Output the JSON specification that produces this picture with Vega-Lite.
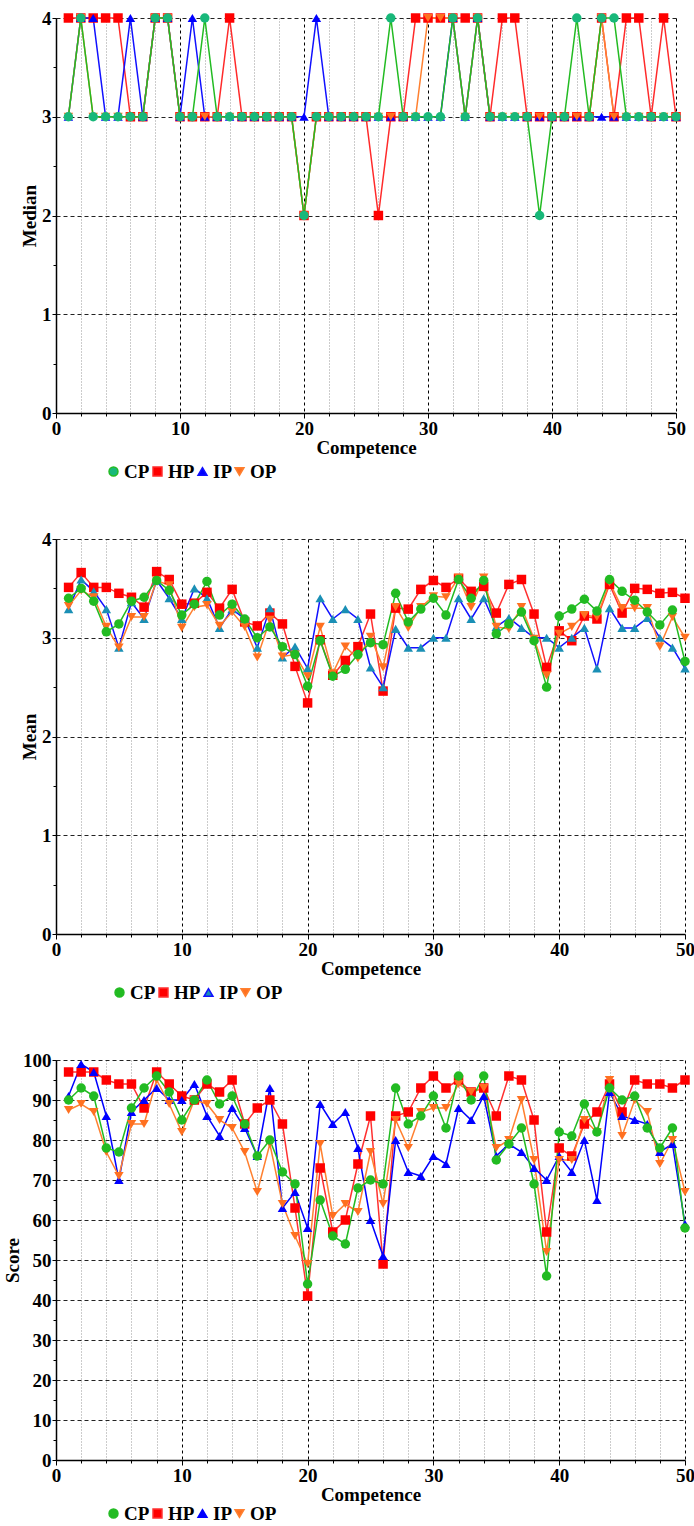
{
"$schema":"https://vega.github.io/schema/vega-lite/v6.json",
"background":"white",
"padding":{"left":3,"top":9,"right":0,"bottom":5},
"spacing":48,
"config":{"view":{"stroke":null},"font":"Liberation Serif",
"axis":{"labelFont":"Liberation Serif","labelFontWeight":"bold","labelFontSize":19,"labelColor":"black","titleFont":"Liberation Serif","titleFontWeight":"bold","titleFontSize":19,"titleColor":"black","domainColor":"black","domainWidth":1.5,"tickColor":"black","labelOverlap":false,"labelFlush":false},
"legend":{"orient":"none","direction":"horizontal","title":null,"labelFont":"Liberation Serif","labelFontWeight":"bold","labelFontSize":19,"labelColor":"black","symbolSize":80,"gridAlign":"none","columnPadding":-2,"labelOffset":1}},
"datasets":{
"median":[
{"c":1,"g":"HP","v":4},{"c":2,"g":"HP","v":4},{"c":3,"g":"HP","v":4},{"c":4,"g":"HP","v":4},{"c":5,"g":"HP","v":4},{"c":6,"g":"HP","v":3},{"c":7,"g":"HP","v":3},{"c":8,"g":"HP","v":4},{"c":9,"g":"HP","v":4},{"c":10,"g":"HP","v":3},
{"c":11,"g":"HP","v":3},{"c":12,"g":"HP","v":3},{"c":13,"g":"HP","v":3},{"c":14,"g":"HP","v":4},{"c":15,"g":"HP","v":3},{"c":16,"g":"HP","v":3},{"c":17,"g":"HP","v":3},{"c":18,"g":"HP","v":3},{"c":19,"g":"HP","v":3},{"c":20,"g":"HP","v":2},
{"c":21,"g":"HP","v":3},{"c":22,"g":"HP","v":3},{"c":23,"g":"HP","v":3},{"c":24,"g":"HP","v":3},{"c":25,"g":"HP","v":3},{"c":26,"g":"HP","v":2},{"c":27,"g":"HP","v":3},{"c":28,"g":"HP","v":3},{"c":29,"g":"HP","v":4},{"c":30,"g":"HP","v":4},
{"c":31,"g":"HP","v":4},{"c":32,"g":"HP","v":4},{"c":33,"g":"HP","v":4},{"c":34,"g":"HP","v":4},{"c":35,"g":"HP","v":3},{"c":36,"g":"HP","v":4},{"c":37,"g":"HP","v":4},{"c":38,"g":"HP","v":3},{"c":39,"g":"HP","v":3},{"c":40,"g":"HP","v":3},
{"c":41,"g":"HP","v":3},{"c":42,"g":"HP","v":3},{"c":43,"g":"HP","v":3},{"c":44,"g":"HP","v":4},{"c":45,"g":"HP","v":3},{"c":46,"g":"HP","v":4},{"c":47,"g":"HP","v":4},{"c":48,"g":"HP","v":3},{"c":49,"g":"HP","v":4},{"c":50,"g":"HP","v":3},
{"c":1,"g":"IP","v":3},{"c":2,"g":"IP","v":4},{"c":3,"g":"IP","v":4},{"c":4,"g":"IP","v":3},{"c":5,"g":"IP","v":3},{"c":6,"g":"IP","v":4},{"c":7,"g":"IP","v":3},{"c":8,"g":"IP","v":4},{"c":9,"g":"IP","v":4},{"c":10,"g":"IP","v":3},
{"c":11,"g":"IP","v":4},{"c":12,"g":"IP","v":3},{"c":13,"g":"IP","v":3},{"c":14,"g":"IP","v":3},{"c":15,"g":"IP","v":3},{"c":16,"g":"IP","v":3},{"c":17,"g":"IP","v":3},{"c":18,"g":"IP","v":3},{"c":19,"g":"IP","v":3},{"c":20,"g":"IP","v":3},
{"c":21,"g":"IP","v":4},{"c":22,"g":"IP","v":3},{"c":23,"g":"IP","v":3},{"c":24,"g":"IP","v":3},{"c":25,"g":"IP","v":3},{"c":26,"g":"IP","v":3},{"c":27,"g":"IP","v":3},{"c":28,"g":"IP","v":3},{"c":29,"g":"IP","v":3},{"c":30,"g":"IP","v":3},
{"c":31,"g":"IP","v":3},{"c":32,"g":"IP","v":4},{"c":33,"g":"IP","v":3},{"c":34,"g":"IP","v":4},{"c":35,"g":"IP","v":3},{"c":36,"g":"IP","v":3},{"c":37,"g":"IP","v":3},{"c":38,"g":"IP","v":3},{"c":39,"g":"IP","v":3},{"c":40,"g":"IP","v":3},
{"c":41,"g":"IP","v":3},{"c":42,"g":"IP","v":3},{"c":43,"g":"IP","v":3},{"c":44,"g":"IP","v":3},{"c":45,"g":"IP","v":3},{"c":46,"g":"IP","v":3},{"c":47,"g":"IP","v":3},{"c":48,"g":"IP","v":3},{"c":49,"g":"IP","v":3},{"c":50,"g":"IP","v":3},
{"c":1,"g":"OP","v":3},{"c":2,"g":"OP","v":4},{"c":3,"g":"OP","v":3},{"c":4,"g":"OP","v":3},{"c":5,"g":"OP","v":3},{"c":6,"g":"OP","v":3},{"c":7,"g":"OP","v":3},{"c":8,"g":"OP","v":4},{"c":9,"g":"OP","v":4},{"c":10,"g":"OP","v":3},
{"c":11,"g":"OP","v":3},{"c":12,"g":"OP","v":3},{"c":13,"g":"OP","v":3},{"c":14,"g":"OP","v":3},{"c":15,"g":"OP","v":3},{"c":16,"g":"OP","v":3},{"c":17,"g":"OP","v":3},{"c":18,"g":"OP","v":3},{"c":19,"g":"OP","v":3},{"c":20,"g":"OP","v":2},
{"c":21,"g":"OP","v":3},{"c":22,"g":"OP","v":3},{"c":23,"g":"OP","v":3},{"c":24,"g":"OP","v":3},{"c":25,"g":"OP","v":3},{"c":26,"g":"OP","v":3},{"c":27,"g":"OP","v":3},{"c":28,"g":"OP","v":3},{"c":29,"g":"OP","v":3},{"c":30,"g":"OP","v":4},
{"c":31,"g":"OP","v":4},{"c":32,"g":"OP","v":4},{"c":33,"g":"OP","v":3},{"c":34,"g":"OP","v":4},{"c":35,"g":"OP","v":3},{"c":36,"g":"OP","v":3},{"c":37,"g":"OP","v":3},{"c":38,"g":"OP","v":3},{"c":39,"g":"OP","v":3},{"c":40,"g":"OP","v":3},
{"c":41,"g":"OP","v":3},{"c":42,"g":"OP","v":3},{"c":43,"g":"OP","v":3},{"c":44,"g":"OP","v":4},{"c":45,"g":"OP","v":3},{"c":46,"g":"OP","v":3},{"c":47,"g":"OP","v":3},{"c":48,"g":"OP","v":3},{"c":49,"g":"OP","v":3},{"c":50,"g":"OP","v":3},
{"c":1,"g":"CP","v":3},{"c":2,"g":"CP","v":4},{"c":3,"g":"CP","v":3},{"c":4,"g":"CP","v":3},{"c":5,"g":"CP","v":3},{"c":6,"g":"CP","v":3},{"c":7,"g":"CP","v":3},{"c":8,"g":"CP","v":4},{"c":9,"g":"CP","v":4},{"c":10,"g":"CP","v":3},
{"c":11,"g":"CP","v":3},{"c":12,"g":"CP","v":4},{"c":13,"g":"CP","v":3},{"c":14,"g":"CP","v":3},{"c":15,"g":"CP","v":3},{"c":16,"g":"CP","v":3},{"c":17,"g":"CP","v":3},{"c":18,"g":"CP","v":3},{"c":19,"g":"CP","v":3},{"c":20,"g":"CP","v":2},
{"c":21,"g":"CP","v":3},{"c":22,"g":"CP","v":3},{"c":23,"g":"CP","v":3},{"c":24,"g":"CP","v":3},{"c":25,"g":"CP","v":3},{"c":26,"g":"CP","v":3},{"c":27,"g":"CP","v":4},{"c":28,"g":"CP","v":3},{"c":29,"g":"CP","v":3},{"c":30,"g":"CP","v":3},
{"c":31,"g":"CP","v":3},{"c":32,"g":"CP","v":4},{"c":33,"g":"CP","v":3},{"c":34,"g":"CP","v":4},{"c":35,"g":"CP","v":3},{"c":36,"g":"CP","v":3},{"c":37,"g":"CP","v":3},{"c":38,"g":"CP","v":3},{"c":39,"g":"CP","v":2},{"c":40,"g":"CP","v":3},
{"c":41,"g":"CP","v":3},{"c":42,"g":"CP","v":4},{"c":43,"g":"CP","v":3},{"c":44,"g":"CP","v":4},{"c":45,"g":"CP","v":4},{"c":46,"g":"CP","v":3},{"c":47,"g":"CP","v":3},{"c":48,"g":"CP","v":3},{"c":49,"g":"CP","v":3},{"c":50,"g":"CP","v":3}
],
"mean":[
{"c":1,"g":"HP","v":3.51},{"c":2,"g":"HP","v":3.66},{"c":3,"g":"HP","v":3.51},{"c":4,"g":"HP","v":3.51},{"c":5,"g":"HP","v":3.45},{"c":6,"g":"HP","v":3.41},{"c":7,"g":"HP","v":3.31},{"c":8,"g":"HP","v":3.67},{"c":9,"g":"HP","v":3.59},{"c":10,"g":"HP","v":3.34},
{"c":11,"g":"HP","v":3.35},{"c":12,"g":"HP","v":3.46},{"c":13,"g":"HP","v":3.30},{"c":14,"g":"HP","v":3.49},{"c":15,"g":"HP","v":3.16},{"c":16,"g":"HP","v":3.12},{"c":17,"g":"HP","v":3.25},{"c":18,"g":"HP","v":3.14},{"c":19,"g":"HP","v":2.71},{"c":20,"g":"HP","v":2.34},
{"c":21,"g":"HP","v":2.98},{"c":22,"g":"HP","v":2.62},{"c":23,"g":"HP","v":2.77},{"c":24,"g":"HP","v":2.91},{"c":25,"g":"HP","v":3.24},{"c":26,"g":"HP","v":2.46},{"c":27,"g":"HP","v":3.30},{"c":28,"g":"HP","v":3.29},{"c":29,"g":"HP","v":3.49},{"c":30,"g":"HP","v":3.58},
{"c":31,"g":"HP","v":3.51},{"c":32,"g":"HP","v":3.60},{"c":33,"g":"HP","v":3.47},{"c":34,"g":"HP","v":3.52},{"c":35,"g":"HP","v":3.25},{"c":36,"g":"HP","v":3.54},{"c":37,"g":"HP","v":3.59},{"c":38,"g":"HP","v":3.24},{"c":39,"g":"HP","v":2.70},{"c":40,"g":"HP","v":3.07},
{"c":41,"g":"HP","v":2.97},{"c":42,"g":"HP","v":3.22},{"c":43,"g":"HP","v":3.19},{"c":44,"g":"HP","v":3.54},{"c":45,"g":"HP","v":3.25},{"c":46,"g":"HP","v":3.50},{"c":47,"g":"HP","v":3.49},{"c":48,"g":"HP","v":3.45},{"c":49,"g":"HP","v":3.46},{"c":50,"g":"HP","v":3.40},
{"c":1,"g":"IP","v":3.29},{"c":2,"g":"IP","v":3.59},{"c":3,"g":"IP","v":3.47},{"c":4,"g":"IP","v":3.29},{"c":5,"g":"IP","v":2.90},{"c":6,"g":"IP","v":3.36},{"c":7,"g":"IP","v":3.19},{"c":8,"g":"IP","v":3.58},{"c":9,"g":"IP","v":3.40},{"c":10,"g":"IP","v":3.19},
{"c":11,"g":"IP","v":3.50},{"c":12,"g":"IP","v":3.40},{"c":13,"g":"IP","v":3.10},{"c":14,"g":"IP","v":3.29},{"c":15,"g":"IP","v":3.19},{"c":16,"g":"IP","v":2.90},{"c":17,"g":"IP","v":3.30},{"c":18,"g":"IP","v":2.80},{"c":19,"g":"IP","v":2.91},{"c":20,"g":"IP","v":2.69},
{"c":21,"g":"IP","v":3.40},{"c":22,"g":"IP","v":3.19},{"c":23,"g":"IP","v":3.29},{"c":24,"g":"IP","v":3.19},{"c":25,"g":"IP","v":2.70},{"c":26,"g":"IP","v":2.50},{"c":27,"g":"IP","v":3.09},{"c":28,"g":"IP","v":2.90},{"c":29,"g":"IP","v":2.90},{"c":30,"g":"IP","v":3.00},
{"c":31,"g":"IP","v":3.00},{"c":32,"g":"IP","v":3.40},{"c":33,"g":"IP","v":3.19},{"c":34,"g":"IP","v":3.40},{"c":35,"g":"IP","v":3.11},{"c":36,"g":"IP","v":3.20},{"c":37,"g":"IP","v":3.10},{"c":38,"g":"IP","v":3.00},{"c":39,"g":"IP","v":3.00},{"c":40,"g":"IP","v":2.90},
{"c":41,"g":"IP","v":3.00},{"c":42,"g":"IP","v":3.10},{"c":43,"g":"IP","v":2.69},{"c":44,"g":"IP","v":3.30},{"c":45,"g":"IP","v":3.10},{"c":46,"g":"IP","v":3.10},{"c":47,"g":"IP","v":3.20},{"c":48,"g":"IP","v":3.00},{"c":49,"g":"IP","v":2.90},{"c":50,"g":"IP","v":2.69},
{"c":1,"g":"OP","v":3.32},{"c":2,"g":"OP","v":3.48},{"c":3,"g":"OP","v":3.41},{"c":4,"g":"OP","v":3.11},{"c":5,"g":"OP","v":2.90},{"c":6,"g":"OP","v":3.21},{"c":7,"g":"OP","v":3.21},{"c":8,"g":"OP","v":3.58},{"c":9,"g":"OP","v":3.53},{"c":10,"g":"OP","v":3.10},
{"c":11,"g":"OP","v":3.31},{"c":12,"g":"OP","v":3.33},{"c":13,"g":"OP","v":3.12},{"c":14,"g":"OP","v":3.26},{"c":15,"g":"OP","v":3.11},{"c":16,"g":"OP","v":2.80},{"c":17,"g":"OP","v":3.18},{"c":18,"g":"OP","v":2.81},{"c":19,"g":"OP","v":2.83},{"c":20,"g":"OP","v":2.61},
{"c":21,"g":"OP","v":3.11},{"c":22,"g":"OP","v":2.64},{"c":23,"g":"OP","v":2.91},{"c":24,"g":"OP","v":2.79},{"c":25,"g":"OP","v":3.01},{"c":26,"g":"OP","v":2.70},{"c":27,"g":"OP","v":3.31},{"c":28,"g":"OP","v":3.10},{"c":29,"g":"OP","v":3.31},{"c":30,"g":"OP","v":3.42},
{"c":31,"g":"OP","v":3.41},{"c":32,"g":"OP","v":3.61},{"c":33,"g":"OP","v":3.31},{"c":34,"g":"OP","v":3.61},{"c":35,"g":"OP","v":3.11},{"c":36,"g":"OP","v":3.09},{"c":37,"g":"OP","v":3.31},{"c":38,"g":"OP","v":2.99},{"c":39,"g":"OP","v":2.62},{"c":40,"g":"OP","v":3.04},
{"c":41,"g":"OP","v":3.11},{"c":42,"g":"OP","v":3.23},{"c":43,"g":"OP","v":3.21},{"c":44,"g":"OP","v":3.56},{"c":45,"g":"OP","v":3.30},{"c":46,"g":"OP","v":3.30},{"c":47,"g":"OP","v":3.30},{"c":48,"g":"OP","v":2.91},{"c":49,"g":"OP","v":3.21},{"c":50,"g":"OP","v":3.00},
{"c":1,"g":"CP","v":3.40},{"c":2,"g":"CP","v":3.50},{"c":3,"g":"CP","v":3.37},{"c":4,"g":"CP","v":3.06},{"c":5,"g":"CP","v":3.14},{"c":6,"g":"CP","v":3.37},{"c":7,"g":"CP","v":3.41},{"c":8,"g":"CP","v":3.58},{"c":9,"g":"CP","v":3.48},{"c":10,"g":"CP","v":3.23},
{"c":11,"g":"CP","v":3.34},{"c":12,"g":"CP","v":3.57},{"c":13,"g":"CP","v":3.23},{"c":14,"g":"CP","v":3.34},{"c":15,"g":"CP","v":3.19},{"c":16,"g":"CP","v":3.00},{"c":17,"g":"CP","v":3.11},{"c":18,"g":"CP","v":2.91},{"c":19,"g":"CP","v":2.83},{"c":20,"g":"CP","v":2.51},
{"c":21,"g":"CP","v":2.97},{"c":22,"g":"CP","v":2.61},{"c":23,"g":"CP","v":2.68},{"c":24,"g":"CP","v":2.83},{"c":25,"g":"CP","v":2.95},{"c":26,"g":"CP","v":2.93},{"c":27,"g":"CP","v":3.45},{"c":28,"g":"CP","v":3.16},{"c":29,"g":"CP","v":3.29},{"c":30,"g":"CP","v":3.40},
{"c":31,"g":"CP","v":3.23},{"c":32,"g":"CP","v":3.59},{"c":33,"g":"CP","v":3.40},{"c":34,"g":"CP","v":3.58},{"c":35,"g":"CP","v":3.04},{"c":36,"g":"CP","v":3.14},{"c":37,"g":"CP","v":3.26},{"c":38,"g":"CP","v":2.97},{"c":39,"g":"CP","v":2.50},{"c":40,"g":"CP","v":3.22},
{"c":41,"g":"CP","v":3.29},{"c":42,"g":"CP","v":3.39},{"c":43,"g":"CP","v":3.27},{"c":44,"g":"CP","v":3.59},{"c":45,"g":"CP","v":3.47},{"c":46,"g":"CP","v":3.38},{"c":47,"g":"CP","v":3.26},{"c":48,"g":"CP","v":3.13},{"c":49,"g":"CP","v":3.28},{"c":50,"g":"CP","v":2.76}
],
"score":[
{"c":1,"g":"HP","v":97},{"c":2,"g":"HP","v":97},{"c":3,"g":"HP","v":97},{"c":4,"g":"HP","v":95},{"c":5,"g":"HP","v":94},{"c":6,"g":"HP","v":94},{"c":7,"g":"HP","v":88},{"c":8,"g":"HP","v":97},{"c":9,"g":"HP","v":94},{"c":10,"g":"HP","v":91},
{"c":11,"g":"HP","v":90},{"c":12,"g":"HP","v":94},{"c":13,"g":"HP","v":92},{"c":14,"g":"HP","v":95},{"c":15,"g":"HP","v":84},{"c":16,"g":"HP","v":88},{"c":17,"g":"HP","v":90},{"c":18,"g":"HP","v":84},{"c":19,"g":"HP","v":63},{"c":20,"g":"HP","v":41},
{"c":21,"g":"HP","v":73},{"c":22,"g":"HP","v":57},{"c":23,"g":"HP","v":60},{"c":24,"g":"HP","v":74},{"c":25,"g":"HP","v":86},{"c":26,"g":"HP","v":49},{"c":27,"g":"HP","v":86},{"c":28,"g":"HP","v":87},{"c":29,"g":"HP","v":93},{"c":30,"g":"HP","v":96},
{"c":31,"g":"HP","v":93},{"c":32,"g":"HP","v":95},{"c":33,"g":"HP","v":92},{"c":34,"g":"HP","v":93},{"c":35,"g":"HP","v":86},{"c":36,"g":"HP","v":96},{"c":37,"g":"HP","v":95},{"c":38,"g":"HP","v":85},{"c":39,"g":"HP","v":57},{"c":40,"g":"HP","v":78},
{"c":41,"g":"HP","v":76},{"c":42,"g":"HP","v":84},{"c":43,"g":"HP","v":87},{"c":44,"g":"HP","v":94},{"c":45,"g":"HP","v":87},{"c":46,"g":"HP","v":95},{"c":47,"g":"HP","v":94},{"c":48,"g":"HP","v":94},{"c":49,"g":"HP","v":93},{"c":50,"g":"HP","v":95},
{"c":1,"g":"IP","v":91},{"c":2,"g":"IP","v":99},{"c":3,"g":"IP","v":97},{"c":4,"g":"IP","v":86},{"c":5,"g":"IP","v":70},{"c":6,"g":"IP","v":87},{"c":7,"g":"IP","v":90},{"c":8,"g":"IP","v":93},{"c":9,"g":"IP","v":90},{"c":10,"g":"IP","v":90},
{"c":11,"g":"IP","v":94},{"c":12,"g":"IP","v":86},{"c":13,"g":"IP","v":81},{"c":14,"g":"IP","v":88},{"c":15,"g":"IP","v":83},{"c":16,"g":"IP","v":76},{"c":17,"g":"IP","v":93},{"c":18,"g":"IP","v":63},{"c":19,"g":"IP","v":67},{"c":20,"g":"IP","v":58},
{"c":21,"g":"IP","v":89},{"c":22,"g":"IP","v":84},{"c":23,"g":"IP","v":87},{"c":24,"g":"IP","v":78},{"c":25,"g":"IP","v":60},{"c":26,"g":"IP","v":51},{"c":27,"g":"IP","v":80},{"c":28,"g":"IP","v":72},{"c":29,"g":"IP","v":71},{"c":30,"g":"IP","v":76},
{"c":31,"g":"IP","v":74},{"c":32,"g":"IP","v":88},{"c":33,"g":"IP","v":85},{"c":34,"g":"IP","v":91},{"c":35,"g":"IP","v":76},{"c":36,"g":"IP","v":79},{"c":37,"g":"IP","v":77},{"c":38,"g":"IP","v":73},{"c":39,"g":"IP","v":70},{"c":40,"g":"IP","v":76},
{"c":41,"g":"IP","v":72},{"c":42,"g":"IP","v":80},{"c":43,"g":"IP","v":65},{"c":44,"g":"IP","v":92},{"c":45,"g":"IP","v":86},{"c":46,"g":"IP","v":85},{"c":47,"g":"IP","v":84},{"c":48,"g":"IP","v":77},{"c":49,"g":"IP","v":79},{"c":50,"g":"IP","v":59},
{"c":1,"g":"OP","v":87.5},{"c":2,"g":"OP","v":89},{"c":3,"g":"OP","v":87},{"c":4,"g":"OP","v":77},{"c":5,"g":"OP","v":71},{"c":6,"g":"OP","v":84},{"c":7,"g":"OP","v":84},{"c":8,"g":"OP","v":95},{"c":9,"g":"OP","v":89},{"c":10,"g":"OP","v":82},
{"c":11,"g":"OP","v":90},{"c":12,"g":"OP","v":89},{"c":13,"g":"OP","v":85},{"c":14,"g":"OP","v":83},{"c":15,"g":"OP","v":77},{"c":16,"g":"OP","v":67},{"c":17,"g":"OP","v":79},{"c":18,"g":"OP","v":64},{"c":19,"g":"OP","v":56},{"c":20,"g":"OP","v":49},
{"c":21,"g":"OP","v":79},{"c":22,"g":"OP","v":61},{"c":23,"g":"OP","v":64},{"c":24,"g":"OP","v":62},{"c":25,"g":"OP","v":77},{"c":26,"g":"OP","v":64},{"c":27,"g":"OP","v":85},{"c":28,"g":"OP","v":78},{"c":29,"g":"OP","v":87},{"c":30,"g":"OP","v":88},
{"c":31,"g":"OP","v":88},{"c":32,"g":"OP","v":94},{"c":33,"g":"OP","v":92},{"c":34,"g":"OP","v":93},{"c":35,"g":"OP","v":78},{"c":36,"g":"OP","v":80},{"c":37,"g":"OP","v":90},{"c":38,"g":"OP","v":75},{"c":39,"g":"OP","v":52},{"c":40,"g":"OP","v":75},
{"c":41,"g":"OP","v":75},{"c":42,"g":"OP","v":85},{"c":43,"g":"OP","v":82},{"c":44,"g":"OP","v":95},{"c":45,"g":"OP","v":81},{"c":46,"g":"OP","v":90},{"c":47,"g":"OP","v":87},{"c":48,"g":"OP","v":74},{"c":49,"g":"OP","v":80},{"c":50,"g":"OP","v":67},
{"c":1,"g":"CP","v":90},{"c":2,"g":"CP","v":93},{"c":3,"g":"CP","v":91},{"c":4,"g":"CP","v":78},{"c":5,"g":"CP","v":77},{"c":6,"g":"CP","v":88},{"c":7,"g":"CP","v":93},{"c":8,"g":"CP","v":96},{"c":9,"g":"CP","v":92},{"c":10,"g":"CP","v":85},
{"c":11,"g":"CP","v":90},{"c":12,"g":"CP","v":95},{"c":13,"g":"CP","v":89},{"c":14,"g":"CP","v":91},{"c":15,"g":"CP","v":84},{"c":16,"g":"CP","v":76},{"c":17,"g":"CP","v":80},{"c":18,"g":"CP","v":72},{"c":19,"g":"CP","v":69},{"c":20,"g":"CP","v":44},
{"c":21,"g":"CP","v":65},{"c":22,"g":"CP","v":56},{"c":23,"g":"CP","v":54},{"c":24,"g":"CP","v":68},{"c":25,"g":"CP","v":70},{"c":26,"g":"CP","v":69},{"c":27,"g":"CP","v":93},{"c":28,"g":"CP","v":84},{"c":29,"g":"CP","v":86},{"c":30,"g":"CP","v":91},
{"c":31,"g":"CP","v":83},{"c":32,"g":"CP","v":96},{"c":33,"g":"CP","v":90},{"c":34,"g":"CP","v":96},{"c":35,"g":"CP","v":75},{"c":36,"g":"CP","v":79},{"c":37,"g":"CP","v":83},{"c":38,"g":"CP","v":69},{"c":39,"g":"CP","v":46},{"c":40,"g":"CP","v":82},
{"c":41,"g":"CP","v":81},{"c":42,"g":"CP","v":89},{"c":43,"g":"CP","v":82},{"c":44,"g":"CP","v":93},{"c":45,"g":"CP","v":90},{"c":46,"g":"CP","v":91},{"c":47,"g":"CP","v":83},{"c":48,"g":"CP","v":78},{"c":49,"g":"CP","v":83},{"c":50,"g":"CP","v":58}
]},
"resolve":{"scale":{"stroke":"independent","fill":"independent","shape":"independent"},"legend":{"stroke":"independent","fill":"independent","shape":"independent"}},
"vconcat":[
{"width":620,"height":395,"data":{"name":"median"},
"encoding":{
"x":{"field":"c","type":"quantitative","scale":{"domain":[0,50],"nice":false,"zero":false},"axis":{"title":"Competence","values":[0,2,4,6,8,10,12,14,16,18,20,22,24,26,28,30,32,34,36,38,40,42,44,46,48,50],"labelExpr":"datum.value % 10 === 0 ? datum.label : ''","grid":true,"gridColor":{"condition":{"test":"datum.value % 10 === 0","value":"#000000"},"value":"#999999"},"gridDash":{"condition":{"test":"datum.value % 10 === 0","value":[3,3]},"value":[1,2]},"tickSize":{"condition":{"test":"datum.value % 10 === 0","value":5},"value":3},"labelPadding":1,"titlePadding":0}},
"y":{"field":"v","type":"quantitative","scale":{"domain":[0,4],"nice":false},"axis":{"title":"Median","values":[0,0.5,1,1.5,2,2.5,3,3.5,4],"labelExpr":"datum.value % 1 === 0 ? format(datum.value, 'd') : ''","grid":true,"gridColor":"#222222","gridDash":[4,3],"gridOpacity":{"condition":{"test":"datum.value % 1 === 0","value":1},"value":0},"tickSize":{"condition":{"test":"datum.value % 1 === 0","value":4},"value":3},"labelPadding":1,"titlePadding":2}}},
"layer":[
{"mark":{"type":"line","strokeWidth":1.5},"encoding":{"stroke":{"field":"g","type":"nominal","scale":{"domain":["CP","HP","IP","OP"],"range":["#22bb22","#ff2a2a","#1010ff","#ff8030"]},"legend":{"legendX":48,"legendY":444}}}},
{"mark":{"type":"point","filled":true,"size":90,"opacity":1},"encoding":{"fill":{"field":"g","type":"nominal","scale":{"domain":["CP","HP","IP","OP"],"range":["#18b87a","#ff0000","#0000ff","#ff7020"]},"legend":{"legendX":48,"legendY":444}},"shape":{"field":"g","type":"nominal","scale":{"domain":["CP","HP","IP","OP"],"range":["circle","square","triangle-up","triangle-down"]},"legend":{"legendX":48,"legendY":444}}}}
]},
{"width":629,"height":395,"data":{"name":"mean"},
"encoding":{
"x":{"field":"c","type":"quantitative","scale":{"domain":[0,50],"nice":false,"zero":false},"axis":{"title":"Competence","values":[0,2,4,6,8,10,12,14,16,18,20,22,24,26,28,30,32,34,36,38,40,42,44,46,48,50],"labelExpr":"datum.value % 10 === 0 ? datum.label : ''","grid":true,"gridColor":{"condition":{"test":"datum.value % 10 === 0","value":"#000000"},"value":"#999999"},"gridDash":{"condition":{"test":"datum.value % 10 === 0","value":[3,3]},"value":[1,2]},"tickSize":{"condition":{"test":"datum.value % 10 === 0","value":5},"value":3},"labelPadding":1,"titlePadding":0}},
"y":{"field":"v","type":"quantitative","scale":{"domain":[0,4],"nice":false},"axis":{"title":"Mean","values":[0,0.5,1,1.5,2,2.5,3,3.5,4],"labelExpr":"datum.value % 1 === 0 ? format(datum.value, 'd') : ''","grid":true,"gridColor":"#222222","gridDash":[4,3],"gridOpacity":{"condition":{"test":"datum.value % 1 === 0","value":1},"value":0},"tickSize":{"condition":{"test":"datum.value % 1 === 0","value":4},"value":3},"labelPadding":1,"titlePadding":2}}},
"layer":[
{"mark":{"type":"line","strokeWidth":1.5},"encoding":{"stroke":{"field":"g","type":"nominal","scale":{"domain":["CP","HP","IP","OP"],"range":["#22bb22","#ff3030","#1010ff","#ff8030"]},"legend":{"legendX":54,"legendY":444}}}},
{"mark":{"type":"point","filled":true,"size":90,"opacity":1},"encoding":{"fill":{"field":"g","type":"nominal","scale":{"domain":["CP","HP","IP","OP"],"range":["#22bb22","#ff0000","#1a8fb5","#ff7020"]},"legend":{"legendX":54,"legendY":444}},"shape":{"field":"g","type":"nominal","scale":{"domain":["CP","HP","IP","OP"],"range":["circle","square","triangle-up","triangle-down"]},"legend":{"legendX":54,"legendY":444}}}}
]},
{"width":629,"height":400,"data":{"name":"score"},
"encoding":{
"x":{"field":"c","type":"quantitative","scale":{"domain":[0,50],"nice":false,"zero":false},"axis":{"title":"Competence","values":[0,2,4,6,8,10,12,14,16,18,20,22,24,26,28,30,32,34,36,38,40,42,44,46,48,50],"labelExpr":"datum.value % 10 === 0 ? datum.label : ''","grid":true,"gridColor":{"condition":{"test":"datum.value % 10 === 0","value":"#000000"},"value":"#999999"},"gridDash":{"condition":{"test":"datum.value % 10 === 0","value":[3,3]},"value":[1,2]},"tickSize":{"condition":{"test":"datum.value % 10 === 0","value":5},"value":3},"labelPadding":1,"titlePadding":0}},
"y":{"field":"v","type":"quantitative","scale":{"domain":[0,100],"nice":false},"axis":{"title":"Score","values":[0,5,10,15,20,25,30,35,40,45,50,55,60,65,70,75,80,85,90,95,100],"labelExpr":"datum.value % 10 === 0 ? datum.label : ''","grid":true,"gridColor":"#222222","gridDash":[4,3],"gridOpacity":{"condition":{"test":"datum.value % 10 === 0","value":1},"value":0},"tickSize":{"condition":{"test":"datum.value % 10 === 0","value":4},"value":3},"labelPadding":1,"titlePadding":0}}},
"layer":[
{"mark":{"type":"line","strokeWidth":1.5},"encoding":{"stroke":{"field":"g","type":"nominal","scale":{"domain":["CP","HP","IP","OP"],"range":["#22bb22","#ff3030","#0000ff","#ff8030"]},"legend":{"legendX":48,"legendY":444}}}},
{"mark":{"type":"point","filled":true,"size":90,"opacity":1},"encoding":{"fill":{"field":"g","type":"nominal","scale":{"domain":["CP","HP","IP","OP"],"range":["#22bb22","#ff0000","#0000ff","#ff7020"]},"legend":{"legendX":48,"legendY":444}},"shape":{"field":"g","type":"nominal","scale":{"domain":["CP","HP","IP","OP"],"range":["circle","square","triangle-up","triangle-down"]},"legend":{"legendX":48,"legendY":444}}}}
]}
]}
